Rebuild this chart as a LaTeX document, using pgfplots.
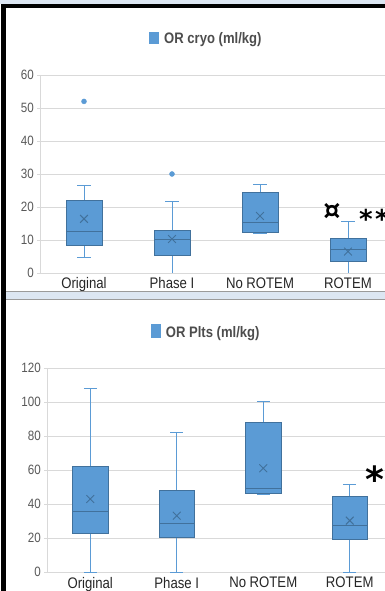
\documentclass[border=0pt]{standalone}
\usepackage{pgfplots}
\pgfplotsset{compat=1.18}
\usepgfplotslibrary{statistics}
\usepackage{fontspec}
\setmainfont{Liberation Sans}[FakeStretch=0.86]
\newfontfamily\symfont{DejaVu Sans}
\definecolor{boxblue}{HTML}{5B9BD5}
\definecolor{boxedge}{HTML}{41719C}
\definecolor{whisk}{HTML}{5B9BD5}
\definecolor{gridgray}{HTML}{D9D9D9}
\definecolor{tickgray}{HTML}{595959}
\definecolor{catgray}{HTML}{262626}
\definecolor{titlegray}{HTML}{4D4D4D}
\definecolor{bandblue}{HTML}{DCE6F2}
\definecolor{bandline}{HTML}{9A9A9A}
\pgfplotsset{
  mybox/.style={
    scale only axis, xmin=0, xmax=4,
    xtick={0.5,1.5,2.5,3.5},
    xticklabels={Original,Phase I,No ROTEM,ROTEM},
    axis lines=left, axis line style={-, draw=gridgray, line width=0.8pt},
    ymajorgrids, grid style={draw=gridgray, line width=0.8pt},
    tick align=outside, major tick length=3pt,
    ytick style={draw=gridgray, line width=0.8pt},
    xtick style={draw=none},
    /pgf/number format/assume math mode=true,
    yticklabel style={font=\fontsize{13.5}{14}\selectfont, text=tickgray, inner sep=0pt, xshift=-3pt},
    xticklabel style={font=\fontsize{15.3}{16}\selectfont, text=catgray, inner sep=0pt, yshift=-1.5pt},
    boxplot/draw direction=y,
    boxplot/box extend=0.41,
    boxplot/whisker extend=0.15,
    boxplot/every box/.style={fill=boxblue, draw=boxedge, line width=0.8pt},
    boxplot/every whisker/.style={draw=whisk, line width=0.9pt},
    boxplot/every median/.style={draw=boxedge, line width=1pt},
  },
  out/.style={mark=*, mark size=2.5pt, mark options={fill=boxblue, draw=boxblue}},
  meanmk/.style={only marks, mark=x, mark size=5.5pt, mark options={draw=boxedge, line width=0.9pt}},
}
\begin{document}
\begin{tikzpicture}
\useasboundingbox (0pt,0pt) rectangle (385pt,591pt);
\clip (0pt,0pt) rectangle (385pt,591pt);
\fill[white] (0pt,0pt) rectangle (385pt,591pt);
% ---------- top panel ----------
\begin{axis}[mybox, at={(40pt,318pt)}, anchor=south west, width=352pt, height=198pt,
  ymin=0, ymax=60, ytick={0,10,...,60}]
\addplot[out, boxplot prepared={draw position=0.5, lower whisker=4.8, lower quartile=8.5, median=12.5, upper quartile=21.9, upper whisker=26.4}] table[row sep=\\, y index=0]{52\\};
\addplot[out, boxplot prepared={draw position=1.5, lower whisker=0, lower quartile=5.4, median=10, upper quartile=12.8, upper whisker=21.6}] table[row sep=\\, y index=0]{30\\};
\addplot[boxplot prepared={draw position=2.5, lower whisker=12.0, lower quartile=12.2, median=15.4, upper quartile=24.4, upper whisker=26.7}] coordinates {};
\addplot[boxplot prepared={draw position=3.5, lower whisker=0, lower quartile=3.4, median=7.0, upper quartile=10.5, upper whisker=15.5}] coordinates {};
\addplot[meanmk] coordinates {(0.5,16.4) (1.5,10.3) (2.5,17.3) (3.5,6.5)};
\end{axis}
% ---------- bottom panel ----------
\begin{axis}[mybox, at={(47pt,18.7pt)}, anchor=south west, width=346pt, height=204pt,
  ymin=0, ymax=120, ytick={0,20,...,120}]
\addplot[boxplot prepared={draw position=0.5, lower whisker=0, lower quartile=22.7, median=35.6, upper quartile=62.1, upper whisker=108}] coordinates {};
\addplot[boxplot prepared={draw position=1.5, lower whisker=0, lower quartile=20.8, median=28.8, upper quartile=48.4, upper whisker=82.5}] coordinates {};
\addplot[boxplot prepared={draw position=2.5, lower whisker=45.9, lower quartile=46.5, median=49.4, upper quartile=88, upper whisker=100.6}] coordinates {};
\addplot[boxplot prepared={draw position=3.5, lower whisker=0, lower quartile=19.6, median=27.8, upper quartile=44.9, upper whisker=51.4}] coordinates {};
\addplot[meanmk] coordinates {(0.5,43.1) (1.5,33.3) (2.5,61.2) (3.5,30.4)};
\end{axis}
% ---------- titles ----------
\fill[boxblue] (149pt,546.7pt) rectangle (159pt,559.3pt);
\node[anchor=base west, inner sep=0pt, text=titlegray, font=\fontsize{15.2}{16}\selectfont\bfseries] at (164pt,547.7pt) {OR cryo (ml/kg)};
\fill[boxblue] (151pt,253.3pt) rectangle (161pt,267pt);
\node[anchor=base west, inner sep=0pt, text=titlegray, font=\fontsize{15.2}{16}\selectfont\bfseries] at (165.7pt,253.3pt) {OR Plts (ml/kg)};
% ---------- annotations ----------
\node[inner sep=0pt, font=\symfont\bfseries\fontsize{27}{29}\selectfont] at (332pt,379.3pt) {¤};
\node[inner sep=0pt, anchor=base, font=\symfont\bfseries\fontsize{26}{28}\selectfont] at (366pt,362pt) {*};
\node[inner sep=0pt, anchor=base, font=\symfont\bfseries\fontsize{26}{28}\selectfont] at (382pt,362pt) {*};
\node[inner sep=0pt, anchor=base, font=\symfont\bfseries\fontsize{36}{38}\selectfont] at (374.5pt,98pt) {*};
% ---------- frame ----------
\fill[bandblue] (0pt,587pt) rectangle (385pt,591pt);
\fill[black] (1pt,583pt) rectangle (385pt,587pt);
\fill[black] (1pt,0pt) rectangle (6pt,587pt);
\fill[bandline] (6pt,290.5pt) rectangle (385pt,300pt);
\fill[bandblue] (6pt,291.5pt) rectangle (385pt,299pt);
\end{tikzpicture}
\end{document}
